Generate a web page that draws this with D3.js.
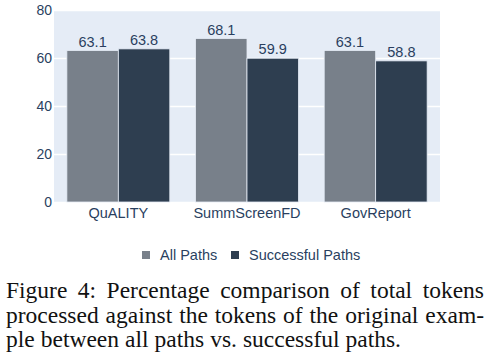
<!DOCTYPE html>
<html><head><meta charset="utf-8">
<script src="https://cdn.jsdelivr.net/npm/d3@7"></script>
<style>body{margin:0;background:#fff}svg{display:block}</style>
</head><body><svg id="c" width="494" height="360"></svg>
<script>
const categories = ["QuALITY", "SummScreenFD", "GovReport"];
const seriesNames = ["All Paths", "Successful Paths"];
const allPaths = [63.1, 68.1, 63.1];
const successfulPaths = [63.8, 59.9, 58.8];
const yTicks = [0, 20, 40, 60, 80];
const captionLines = [
  "Figure 4:  Percentage comparison of total tokens",
  "processed against the tokens of the original exam-",
  "ple between all paths vs. successful paths."
];
const colors = ["#78808a", "#2e3e50"];
const txt = "#2a3f5f";

const svg = d3.select("#c");
const m = {l: 54, r: 440, t: 10, b: 202};
const x0 = d3.scaleBand().domain(categories).range([m.l, m.r]).paddingInner(0.2).paddingOuter(0.1);
const x1 = d3.scaleBand().domain(seriesNames).range([0, x0.bandwidth()]);
const y = d3.scaleLinear().domain([0, 80]).range([m.b, m.t]);

svg.append("rect").attr("x", m.l).attr("y", m.t).attr("width", m.r - m.l).attr("height", m.b - m.t).attr("fill", "#e5ecf6");

const yAxis = d3.axisLeft(y).tickValues(yTicks).tickSize(-(m.r - m.l)).tickPadding(2);
const ga = svg.append("g").attr("transform", `translate(${m.l},0)`).call(yAxis);
ga.select(".domain").remove();
ga.selectAll(".tick line").attr("stroke", "#fff").attr("stroke-width", 1.3);
ga.selectAll(".tick text").attr("fill", txt).attr("font-family", "Liberation Sans, Arial, sans-serif").attr("font-size", 14).attr("dy", "0.35em");

const xAxis = d3.axisBottom(x0).tickSize(0).tickPadding(6);
const gx = svg.append("g").attr("transform", `translate(0,${m.b})`).call(xAxis);
gx.select(".domain").remove();
gx.selectAll(".tick text").attr("fill", txt).attr("font-family", "Liberation Sans, Arial, sans-serif").attr("font-size", 14.5).attr("dy", "0.72em");

const data = categories.map((c, i) => ({c, vals: [allPaths[i], successfulPaths[i]]}));
const groups = svg.append("g").selectAll("g").data(data).join("g").attr("transform", d => `translate(${x0(d.c)},0)`);
groups.selectAll("rect").data(d => d.vals.map((v, j) => ({v, s: seriesNames[j], j}))).join("rect")
  .attr("x", d => x1(d.s)).attr("width", x1.bandwidth())
  .attr("y", d => y(d.v)).attr("height", d => y(0) - y(d.v))
  .attr("fill", d => colors[d.j]).attr("stroke", "#e5ecf6").attr("stroke-width", 0.8);
groups.selectAll("text").data(d => d.vals.map((v, j) => ({v, s: seriesNames[j]}))).join("text")
  .attr("x", d => x1(d.s) + x1.bandwidth() / 2).attr("y", d => y(d.v) - 4)
  .attr("text-anchor", "middle").attr("fill", txt)
  .attr("font-family", "Liberation Sans, Arial, sans-serif").attr("font-size", 14.5)
  .text(d => d.v.toFixed(1));

// legend
const leg = svg.append("g");
const legX = [142, 231];
seriesNames.forEach((s, i) => {
  leg.append("rect").attr("x", legX[i]).attr("y", 251).attr("width", 8).attr("height", 8).attr("fill", colors[i]);
  leg.append("text").attr("x", legX[i] + 18).attr("y", 260).attr("fill", txt)
    .attr("font-family", "Liberation Sans, Arial, sans-serif").attr("font-size", 14.5).text(s);
});

// caption (justified)
const capL = 6, capR = 484, baselines = [298, 322.5, 347];
captionLines.forEach((line, li) => {
  const words = line.split(/\s+/);
  const g = svg.append("g");
  const ts = words.map(w => g.append("text").attr("y", baselines[li]).attr("fill", "#111")
    .attr("font-family", "Liberation Serif, Times New Roman, serif").attr("font-size", 23.5).text(w));
  const widths = ts.map(t => t.node().getComputedTextLength());
  const total = widths.reduce((a, b) => a + b, 0);
  const justify = li < captionLines.length - 1;
  const gap = justify ? (capR - capL - total) / (words.length - 1) : 6;
  let cx = capL;
  ts.forEach((t, k) => { t.attr("x", cx); cx += widths[k] + gap; });
});
</script></body></html>
